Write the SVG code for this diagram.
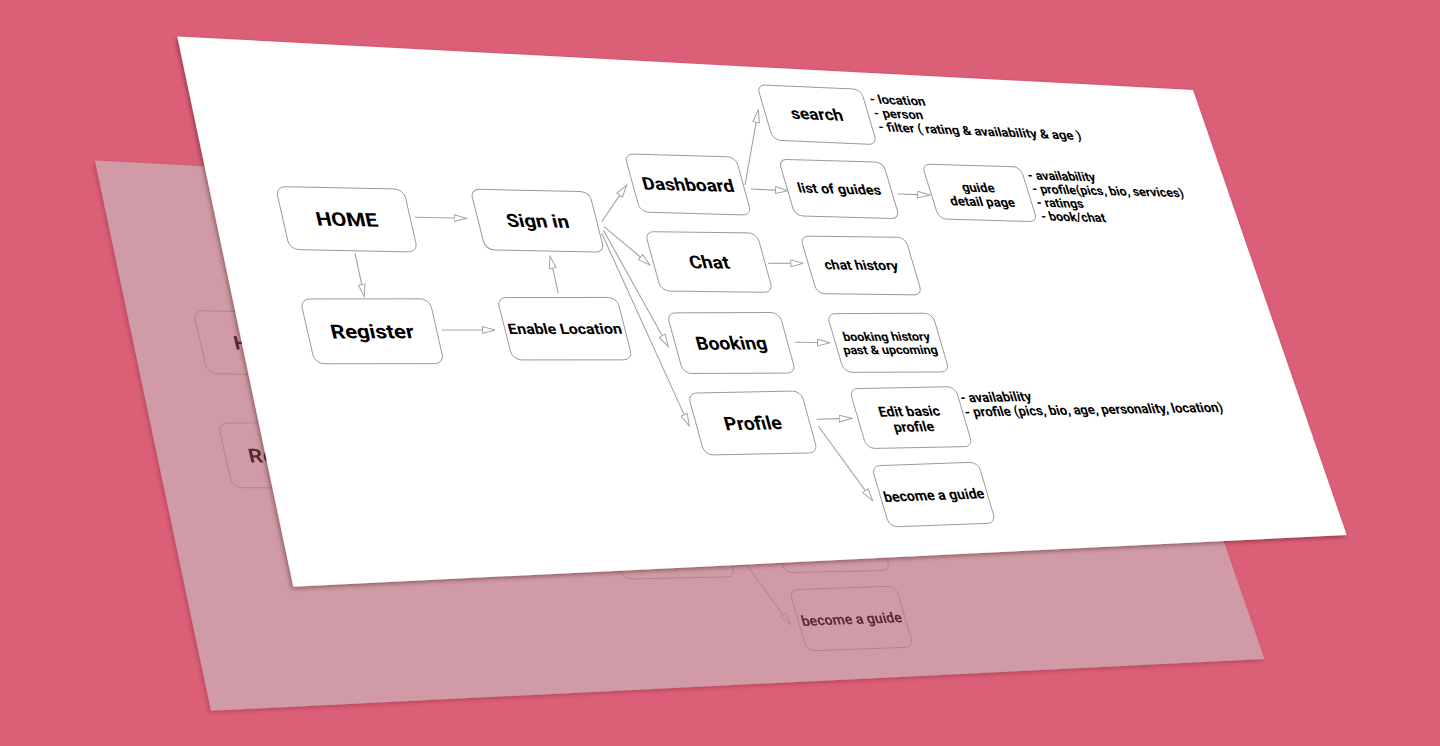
<svg xmlns="http://www.w3.org/2000/svg" xmlns:xlink="http://www.w3.org/1999/xlink" width="1440" height="746" viewBox="0 0 1440 746">
<defs>
<style>
.bg{fill:#dc5f78}
.node rect{stroke:#9b9b9b;stroke-width:1;vector-effect:non-scaling-stroke}
.node text{font-family:Roboto,'Liberation Sans',sans-serif;font-weight:700;fill:#000;text-anchor:middle}
.t18{font-size:18px}
.t175{font-size:17.5px}
.t145{font-size:14.5px}
.t14{font-size:14px}
.t125{font-size:12.5px}
.note text{font-family:Roboto,'Liberation Sans',sans-serif;font-weight:700;font-size:14px;fill:#000}
.conn{fill:none;stroke:#a3a3a3;stroke-width:1.1;marker-end:url(#arr)}
</style>
<filter id="shadow" x="-5%" y="-5%" width="110%" height="115%">
<feDropShadow dx="-1.5" dy="2" stdDeviation="2" flood-color="#3a0010" flood-opacity="0.4"/>
</filter>
<marker id="arr" viewBox="0 0 14 8" refX="0.5" refY="4" markerWidth="14" markerHeight="8" markerUnits="userSpaceOnUse" orient="auto">
<path d="M0.5,0.6 L13,4 L0.5,7.4 Z" fill="none" stroke="#a3a3a3" stroke-width="1"/>
</marker>
</defs>
<rect class="bg" x="0" y="0" width="1440" height="746"/>
<use id="back-sheet" xlink:href="#sheet" href="#sheet" transform="translate(-82.3 124)" fill="#c8c8c8" opacity="0.575"/>
<g id="front-layer" fill="#ffffff">
<g id="sheet">
<polygon id="sheet-bg" points="177.3,36.5 1193,90 1346.7,535 293.3,586.7" filter="url(#shadow)"/>
<g id="connectors">
<line class="conn" x1="415" y1="217.3" x2="454.2" y2="218.06"/>
<line class="conn" x1="355" y1="253.3" x2="361.68" y2="284.48"/>
<line class="conn" x1="441.7" y1="330" x2="482.5" y2="330"/>
<line class="conn" x1="558.3" y1="293.3" x2="552.72" y2="268.2"/>
<line class="conn" x1="601.7" y1="221.7" x2="619.66" y2="195.33"/>
<line class="conn" x1="604" y1="226.7" x2="640.39" y2="257"/>
<line class="conn" x1="603.3" y1="230" x2="662.22" y2="335.78"/>
<line class="conn" x1="601.7" y1="233.3" x2="684.13" y2="414.62"/>
<line class="conn" x1="745" y1="185" x2="756.12" y2="122.31"/>
<line class="conn" x1="751" y1="189" x2="775.51" y2="190.13"/>
<line class="conn" x1="897.7" y1="194" x2="917.51" y2="194.61"/>
<line class="conn" x1="768.3" y1="263.3" x2="790.8" y2="263.3"/>
<line class="conn" x1="795" y1="342.3" x2="817.5" y2="342.56"/>
<line class="conn" x1="816.7" y1="419.3" x2="839.2" y2="418.66"/>
<line class="conn" x1="818.3" y1="426" x2="865.34" y2="490.6"/>
</g>
<g id="n-home" class="node" transform="matrix(1.2084 0.0240 0.2393 1.0491 346.7 219.3)"><rect x="-53" y="-30" width="106" height="60" rx="8"/><text class="t18" y="6.5">HOME</text></g>
<g id="n-register" class="node" transform="matrix(1.2203 -0.0016 0.2464 1.0803 372.2 331.3)"><rect x="-53" y="-30" width="106" height="60" rx="8"/><text class="t18" y="6.5">Register</text></g>
<g id="n-enable-location" class="node" transform="matrix(1.1322 -0.0010 0.2633 1.0400 564.8 328.7)"><rect x="-53" y="-30" width="106" height="60" rx="8"/><text class="t14" y="5">Enable Location</text></g>
<g id="n-signin" class="node" transform="matrix(1.1224 0.0228 0.2559 1.0111 537.4 220.7)"><rect x="-53" y="-30" width="106" height="60" rx="8"/><text class="t18" y="6.5">Sign in</text></g>
<g id="n-dashboard" class="node" transform="matrix(1.0493 0.0296 0.2659 0.9693 688.0 184.5)"><rect x="-53" y="-30" width="106" height="60" rx="8"/><text class="t18" y="6.5">Dashboard</text></g>
<g id="n-chat" class="node" transform="matrix(1.0557 0.0133 0.2713 0.9894 709.0 262.0)"><rect x="-53" y="-30" width="106" height="60" rx="8"/><text class="t18" y="6.5">Chat</text></g>
<g id="n-booking" class="node" transform="matrix(1.0620 -0.0041 0.2771 1.0105 731.3 343.0)"><rect x="-53" y="-30" width="106" height="60" rx="8"/><text class="t18" y="6.5">Booking</text></g>
<g id="n-profile" class="node" transform="matrix(1.0684 -0.0216 0.2829 1.0316 752.8 423.0)"><rect x="-53" y="-30" width="106" height="60" rx="8"/><text class="t18" y="6.5">Profile</text></g>
<g id="n-search" class="node" transform="matrix(0.9812 0.0426 0.2711 0.9220 817.0 114.7)"><rect x="-53" y="-30" width="106" height="60" rx="8"/><text class="t175" y="5.5">search</text></g>
<g id="n-list-of-guides" class="node" transform="matrix(0.9863 0.0278 0.2766 0.9404 839.1 189.0)"><rect x="-53" y="-30" width="106" height="60" rx="8"/><text class="t145" y="5">list of guides</text></g>
<g id="n-guide-detail" class="node" transform="matrix(0.9294 0.0262 0.2854 0.9133 979.7 192.9)"><rect x="-53" y="-30" width="106" height="60" rx="8"/><text class="t14" y="-1">guide</text><text class="t14" y="14.5">detail page</text></g>
<g id="n-chat-history" class="node" transform="matrix(0.9918 0.0122 0.2821 0.9596 861.2 265.5)"><rect x="-53" y="-30" width="106" height="60" rx="8"/><text class="t14" y="4.5">chat history</text></g>
<g id="n-booking-history" class="node" transform="matrix(0.9953 -0.0039 0.2882 0.9782 888.2 342.8)"><rect x="-53" y="-30" width="106" height="60" rx="8"/><text class="t125" y="-2">booking history</text><text class="t125" y="11.5">past &amp; upcoming</text></g>
<g id="n-edit-profile" class="node" transform="matrix(1.0000 -0.0197 0.2938 0.9971 911.0 417.6)"><rect x="-53" y="-30" width="106" height="60" rx="8"/><text class="t14" y="-1.5">Edit basic</text><text class="t14" y="14">profile</text></g>
<g id="n-become-guide" class="node" transform="matrix(1.0050 -0.0364 0.2997 1.0169 933.7 494.5)"><rect x="-53" y="-30" width="106" height="60" rx="8"/><text class="t14" y="5.5">become a guide</text></g>
<g id="note-search" class="note" transform="matrix(0.928 0.041 0.279 0.897 871 103.3)"><text x="0" y="0">- location</text><text x="0" y="15.5">- person</text><text x="0" y="31">- filter ( rating &amp; availability &amp; age )</text></g>
<g id="note-guide" class="note" transform="matrix(0.8827 0.0242 0.2924 0.8912 1029 179.5)"><text x="0" y="0">- availability</text><text x="0" y="15.3">- profile(pics, bio, services)</text><text x="0" y="30.6">- ratings</text><text x="0" y="45.9">- book/chat</text></g>
<g id="note-edit" class="note" transform="matrix(0.9250 -0.0174 0.3045 0.9577 961.7 402.3)"><text x="0" y="0">- availability</text><text x="0" y="15">- profile (pics, bio, age, personality, location)</text></g>
</g>
</g>
</svg>
